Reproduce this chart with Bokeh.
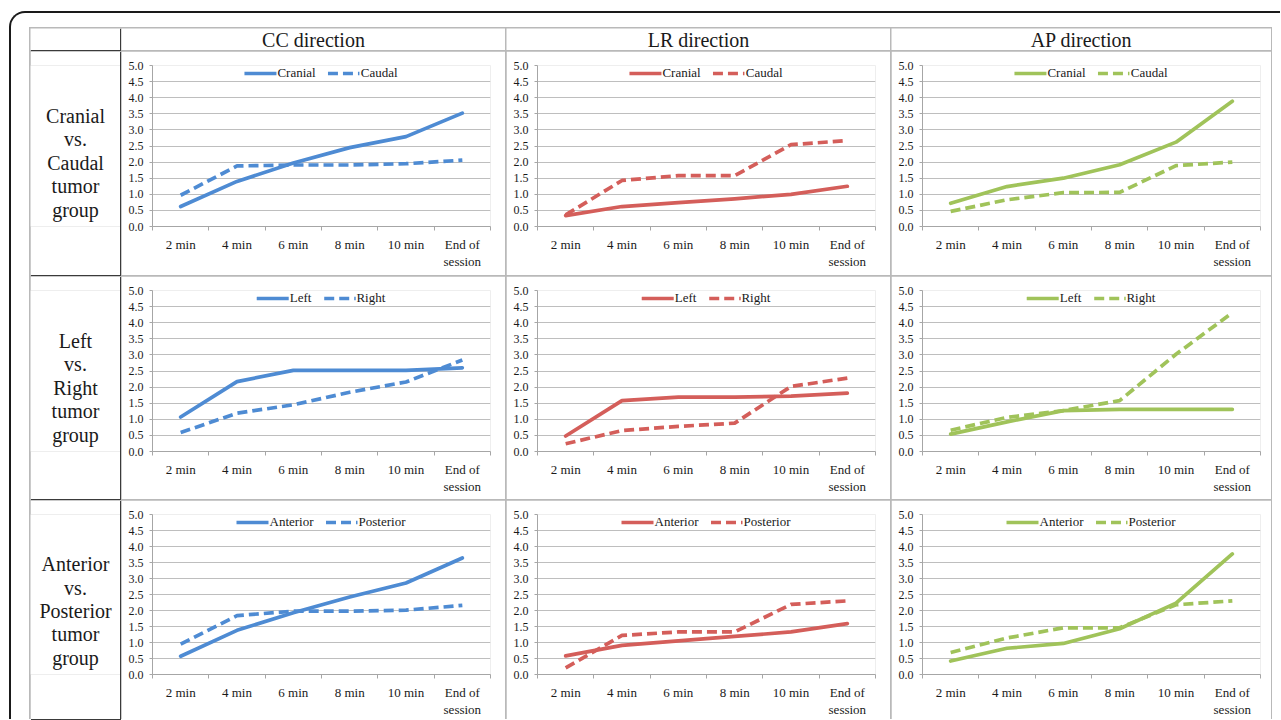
from bokeh.plotting import figure
from bokeh.layouts import column, row
from bokeh.models import (Range1d, NumeralTickFormatter, Legend, LegendItem,
                          SingleIntervalTicker, FixedTicker, LinearAxis)
from bokeh.core.properties import value
from bokeh.embed import file_html
from bokeh.resources import INLINE

# ---------------- data ----------------
categories = ["2 min", "4 min", "6 min", "8 min", "10 min", "End of session"]
column_titles = ["CC direction", "LR direction", "AP direction"]
row_titles = [["Cranial", "vs.", "Caudal", "tumor", "group"],
              ["Left", "vs.", "Right", "tumor", "group"],
              ["Anterior", "vs.", "Posterior", "tumor", "group"]]
series_names = [("Cranial", "Caudal"), ("Left", "Right"), ("Anterior", "Posterior")]

# row 1: cranial vs caudal tumor group
cc_cranial = [0.62, 1.40, 1.97, 2.45, 2.79, 3.52]
cc_caudal = [0.97, 1.88, 1.91, 1.91, 1.95, 2.06]
lr_cranial = [0.34, 0.62, 0.74, 0.86, 1.00, 1.25]
lr_caudal = [0.36, 1.43, 1.58, 1.58, 2.54, 2.67]
ap_cranial = [0.72, 1.24, 1.50, 1.92, 2.62, 3.89]
ap_caudal = [0.47, 0.83, 1.05, 1.06, 1.89, 2.00]

# row 2: left vs right tumor group
cc_left = [1.07, 2.17, 2.52, 2.52, 2.52, 2.60]
cc_right = [0.59, 1.19, 1.45, 1.84, 2.16, 2.84]
lr_left = [0.48, 1.58, 1.69, 1.69, 1.72, 1.81]
lr_right = [0.24, 0.65, 0.78, 0.88, 2.02, 2.28]
ap_left = [0.54, 0.92, 1.27, 1.31, 1.31, 1.31]
ap_right = [0.66, 1.06, 1.27, 1.58, 3.02, 4.31]

# row 3: anterior vs posterior tumor group
cc_anterior = [0.57, 1.38, 1.93, 2.42, 2.86, 3.64]
cc_posterior = [0.95, 1.84, 1.98, 1.98, 2.01, 2.16]
lr_anterior = [0.58, 0.91, 1.05, 1.19, 1.33, 1.59]
lr_posterior = [0.21, 1.22, 1.33, 1.33, 2.19, 2.30]
ap_anterior = [0.42, 0.82, 0.97, 1.43, 2.23, 3.77]
ap_posterior = [0.69, 1.14, 1.46, 1.46, 2.18, 2.30]

panel_data = [
    [(cc_cranial, cc_caudal), (lr_cranial, lr_caudal), (ap_cranial, ap_caudal)],
    [(cc_left, cc_right), (lr_left, lr_right), (ap_left, ap_right)],
    [(cc_anterior, cc_posterior), (lr_anterior, lr_posterior), (ap_anterior, ap_posterior)],
]

# category slots on the x axis: each category is centred in a unit slot
x_pos = [i + 0.5 for i in range(len(categories))]
x_edges = list(range(len(categories) + 1))

# ---------------- styling ----------------
SERIF = "Liberation Serif"
colors = ["#4E8BD3", "#D45E5A", "#A0C35A"]
col_widths = [384, 384, 380]
right_borders = [15, 15, 11]
label_width = 90
header_height = 22
row_heights = [224, 223, 219]
FRAME_TOP, FRAME_H = 14, 161
TEXT = "#1a1a1a"
DARK = "#3a3a3a"
AXIS = "#A6A6A6"
LINE_STEP = 23.5


def text_cell(w, h, lines, y_mid, size, styles, top=0, bottom=None):
    if bottom is None:
        bottom = h
    p = figure(width=w, height=h, x_range=Range1d(0, w),
               y_range=Range1d(bottom, top),
               output_backend="svg", toolbar_location=None,
               x_axis_location=None, y_axis_location=None,
               min_border_left=0, min_border_right=0,
               min_border_top=top, min_border_bottom=h - bottom,
               styles=styles)
    p.grid.visible = False
    p.outline_line_color = None
    p.background_fill_color = "white"
    p.border_fill_color = "white"
    n = len(lines)
    ys = [y_mid + (k - (n - 1) / 2) * LINE_STEP for k in range(n)]
    if n:
        p.text(x=[w / 2] * n, y=ys, text=lines, text_font=value(SERIF),
               text_font_size=size, text_align="center", text_baseline="middle",
               text_color=TEXT)
    return p


def panel(w, h, rb, solid, dashed, names, color):
    p = figure(width=w, height=h, x_range=Range1d(0, len(categories)),
               y_range=Range1d(0, 5), output_backend="svg", toolbar_location=None,
               min_border_left=31, min_border_right=rb, min_border_top=FRAME_TOP,
               min_border_bottom=h - FRAME_TOP - FRAME_H)
    p.outline_line_color = None
    p.background_fill_color = "white"
    p.border_fill_color = "white"
    p.xgrid.visible = False
    p.ygrid.grid_line_color = "#BEBEBE"
    p.ygrid.grid_line_width = 1

    # y axis
    ya = p.yaxis[0]
    ya.ticker = SingleIntervalTicker(interval=0.5, num_minor_ticks=0)
    ya.formatter = NumeralTickFormatter(format="0.0")
    ya.major_tick_out = 3
    ya.major_tick_in = 0
    ya.major_label_standoff = 6
    ya.major_label_text_font_size = "12px"

    # x axis: category labels (first line) with ticks on slot edges
    xa = p.xaxis[0]
    xa.ticker = FixedTicker(ticks=x_pos, minor_ticks=x_edges)
    over1 = {x: c for x, c in zip(x_pos, categories)}
    over1[x_pos[-1]] = "End of"
    xa.major_label_overrides = over1
    xa.major_tick_out = 0
    xa.major_tick_in = 0
    xa.minor_tick_out = 4
    xa.minor_tick_in = 0
    xa.major_label_standoff = 6
    xa.major_label_text_font_size = "13px"

    # second line of the last category label
    xb = LinearAxis(ticker=FixedTicker(ticks=[x_pos[-1]]))
    xb.major_label_overrides = {x_pos[-1]: "session"}
    p.add_layout(xb, "below")
    xb.axis_line_color = None
    xb.major_tick_line_color = None
    xb.minor_tick_line_color = None
    xb.major_tick_out = 0
    xb.major_tick_in = 0
    xb.major_label_standoff = -1
    xb.major_label_text_font_size = "13px"

    for ax in (xa, ya, xb):
        ax.major_label_text_font = SERIF
        ax.major_label_text_color = TEXT
    for ax in (xa, ya):
        ax.axis_line_color = AXIS
        ax.major_tick_line_color = AXIS
    xa.minor_tick_line_color = AXIS
    ya.minor_tick_line_color = None

    r1 = p.line(x_pos, solid, line_color=color, line_width=3.7,
                line_join="round", line_cap="round")
    r2 = p.line(x_pos, dashed, line_color=color, line_width=3.7,
                line_dash="10 5", line_join="round")
    legend = Legend(items=[LegendItem(label=names[0], renderers=[r1]),
                           LegendItem(label=names[1], renderers=[r2])],
                    location="top_center", orientation="horizontal",
                    background_fill_alpha=0, border_line_color=None,
                    padding=0, margin=0, spacing=12, label_standoff=1,
                    glyph_width=32, glyph_height=14, label_height=14,
                    label_text_font=SERIF, label_text_font_size="13px",
                    label_text_color=TEXT)
    p.add_layout(legend)
    return p


rows = []
header = [text_cell(label_width, header_height, [], 11, "20px",
                    {"box-shadow": "1px 1px 0 0 " + DARK})]
for j, t in enumerate(column_titles):
    header.append(text_cell(col_widths[j], header_height, [t], 11.5, "20px", {}))
rows.append(row(header, spacing=1))

for i in range(3):
    cells = [text_cell(label_width, row_heights[i], row_titles[i], 111, "20px",
                       {"box-shadow": "1px 1px 0 0 " + DARK},
                       top=FRAME_TOP, bottom=FRAME_TOP + FRAME_H)]
    for j in range(3):
        solid, dashed = panel_data[i][j]
        cells.append(panel(col_widths[j], row_heights[i], right_borders[j],
                           solid, dashed, series_names[i], colors[j]))
    rows.append(row(cells, spacing=1))

grid = column(rows, spacing=1,
              styles={"background-color": "#B9B9B9", "padding": "1px 1px 0 1px"})

page = column([grid], styles={
    "position": "relative", "top": "11px", "left": "9px",
    "border-top": "2px solid #1a1a1a", "border-left": "2px solid #1a1a1a",
    "border-top-left-radius": "16px",
    "padding": "14px 8px 0 18px", "margin-bottom": "-12px",
})

open("out.html", "w").write(file_html(page, INLINE))
